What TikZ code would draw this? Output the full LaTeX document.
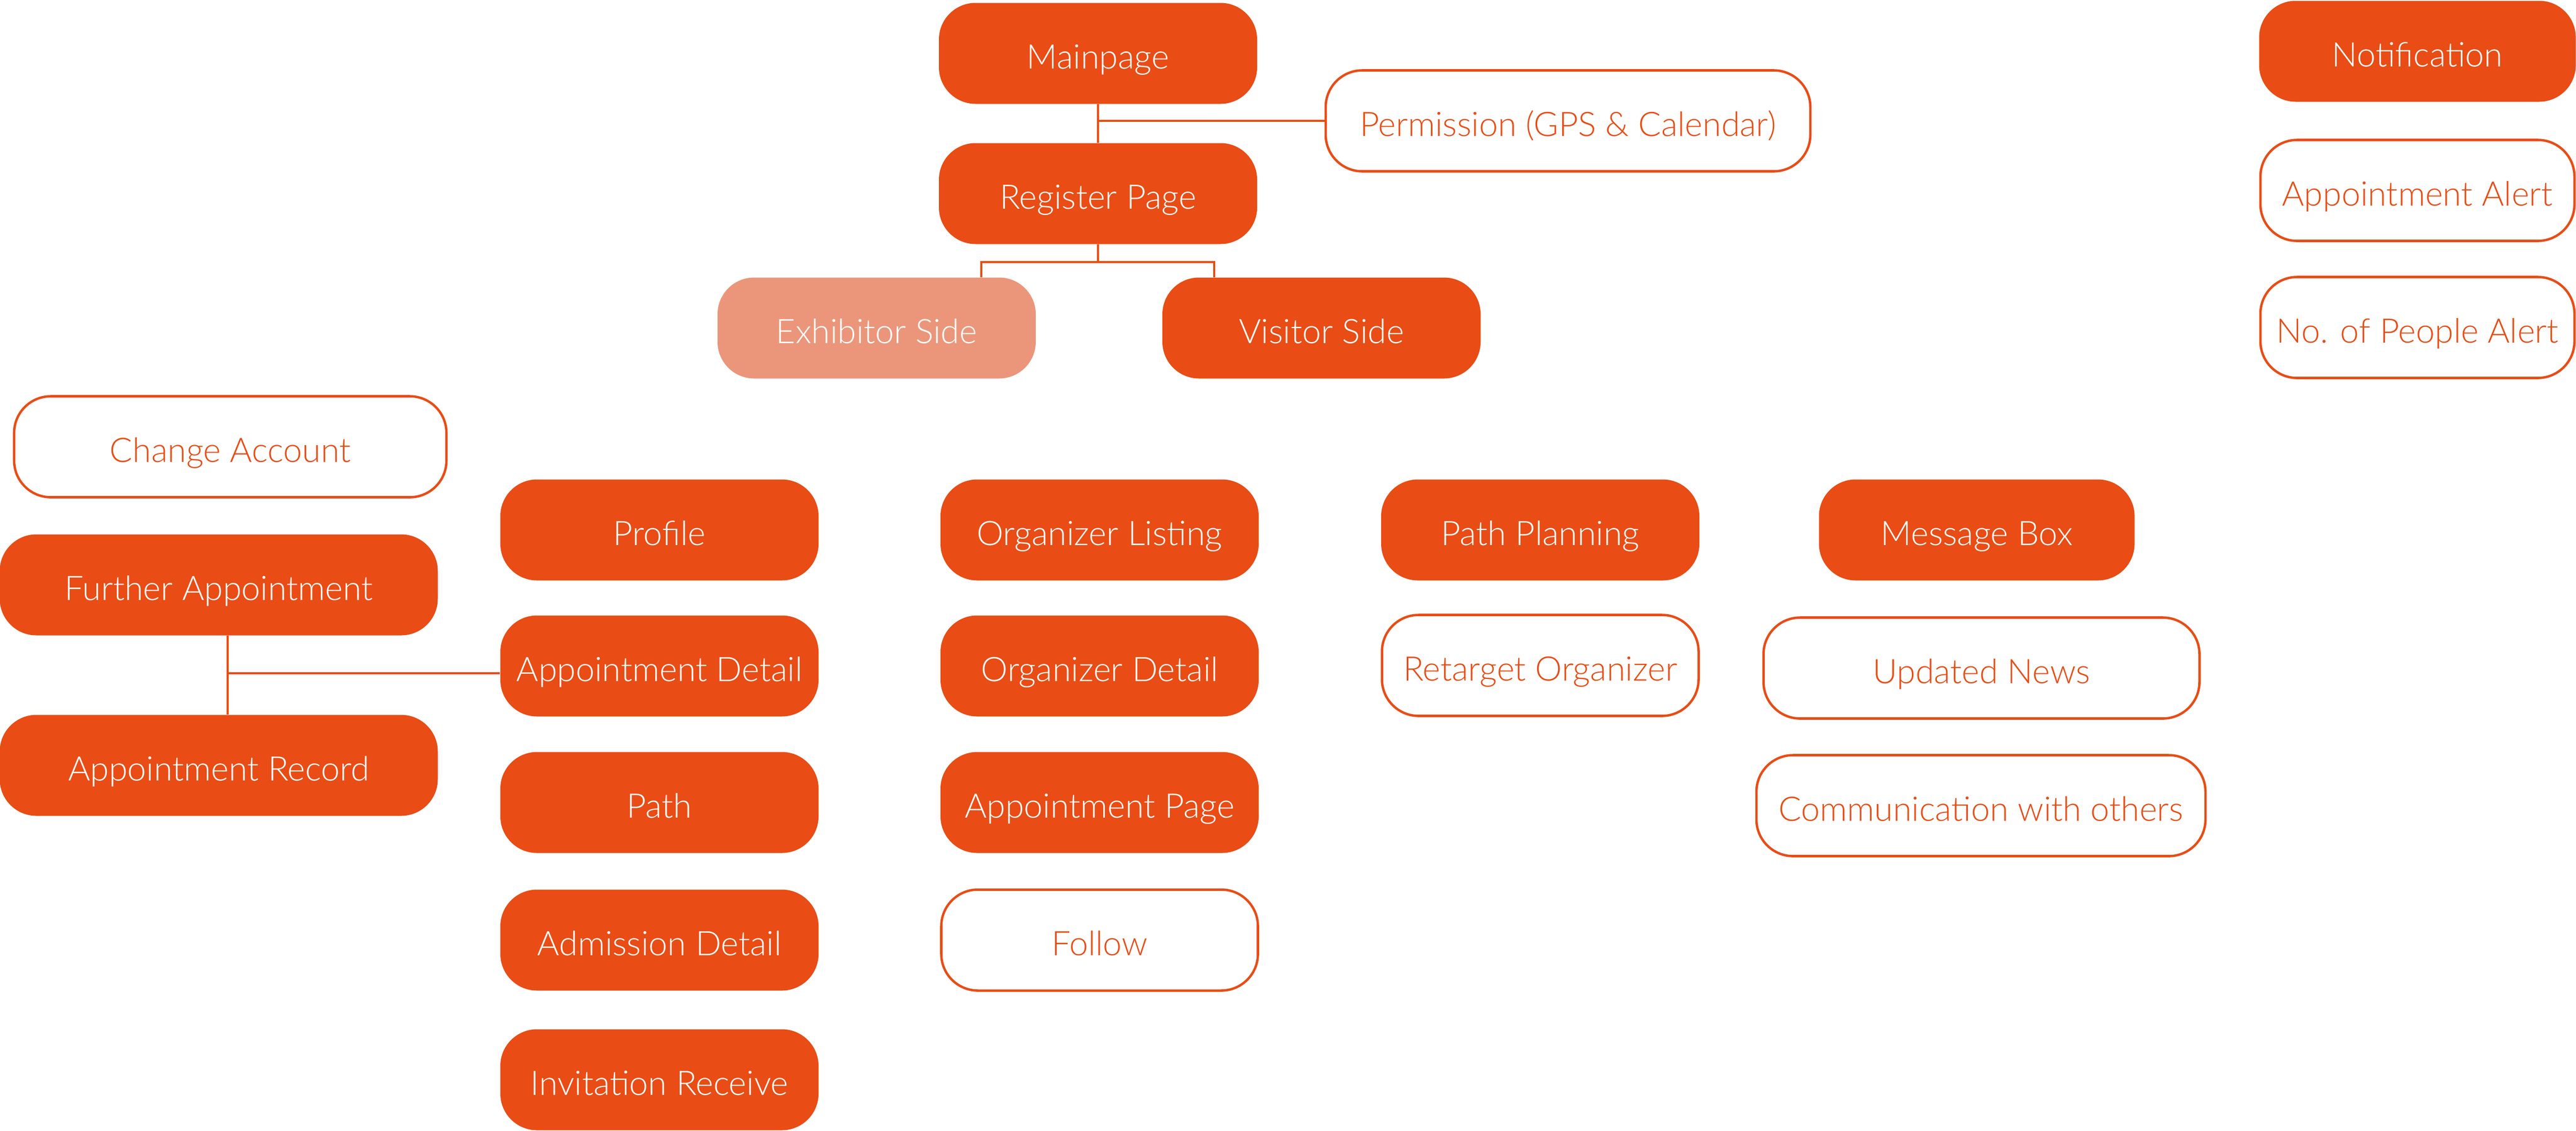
\documentclass[tikz,border=0pt]{standalone}
\usepackage{fontspec}
\setmainfont{Lato Light}
\usepackage{tikz}

\definecolor{brand}{HTML}{E94C15}
\definecolor{brandlight}{HTML}{EB967A}

\tikzset{
  box/.style={rounded corners=0.7cm, minimum width=6.08cm, minimum height=1.93cm, inner sep=0pt, text height=17pt, text depth=0pt, font=\fontsize{18.4}{22}\selectfont},
  solidbox/.style={box, fill=brand, text=white},
  fadebox/.style={box, fill=brandlight, text=white},
  linebox/.style={box, draw=brand, line width=1.3pt, text=brand},
  link/.style={draw=brand, line width=1pt}
}

\begin{document}
\begin{tikzpicture}

        \useasboundingbox (0,0) rectangle (49.22,-21.61);

        \node[solidbox] (main) at (20.98,-1.02) {Mainpage};
        \node[linebox, minimum width=9.26cm] (perm) at (29.96,-2.31) {Permission (GPS \& Calendar)};
        \node[solidbox] (reg) at (20.98,-3.70) {Register Page};
        \node[fadebox] (exh) at (16.75,-6.27) {Exhibitor Side};
        \node[solidbox] (vis) at (25.25,-6.27) {Visitor Side};

        \node[solidbox, minimum width=6.05cm] (notif) at (46.19,-0.98) {Notification};
        \node[linebox, minimum width=6.0cm] (alert) at (46.19,-3.64) {Appointment Alert};
        \node[linebox, minimum width=6.0cm] (people) at (46.19,-6.26) {No. of People Alert};

        \node[linebox, minimum width=8.26cm] (chacc) at (4.40,-8.54) {Change Account};
        \node[solidbox, minimum width=8.37cm] (further) at (4.18,-11.18) {Further Appointment};
        \node[solidbox, minimum width=8.37cm] (record) at (4.18,-14.63) {Appointment Record};

        \node[solidbox] (profile) at (12.60,-10.13) {Profile};
        \node[solidbox] (adetail) at (12.60,-12.73) {Appointment Detail};
        \node[solidbox] (path) at (12.60,-15.34) {Path};
        \node[solidbox] (admission) at (12.60,-17.97) {Admission Detail};
        \node[solidbox] (invite) at (12.60,-20.64) {Invitation Receive};

        \node[solidbox] (olist) at (21.01,-10.13) {Organizer Listing};
        \node[solidbox] (odetail) at (21.01,-12.73) {Organizer Detail};
        \node[solidbox] (apage) at (21.01,-15.34) {Appointment Page};
        \node[linebox, minimum width=6.05cm] (follow) at (21.01,-17.97) {Follow};

        \node[solidbox] (plan) at (29.43,-10.13) {Path Planning};
        \node[linebox, minimum width=6.05cm] (retarget) at (29.43,-12.72) {Retarget Organizer};

        \node[solidbox, minimum width=6.03cm] (msgbox) at (37.77,-10.13) {Message Box};
        \node[linebox, minimum width=8.33cm] (news) at (37.86,-12.77) {Updated News};
        \node[linebox, minimum width=8.58cm] (comm) at (37.85,-15.40) {Communication with others};

        \draw[link] (main.south) -- (reg.north);
        \draw[link] (perm.west) -- (perm.west -| main.south);

        \coordinate (split) at ([yshift=-3.4mm]reg.south);
        \coordinate (splitL) at ([xshift=-22.3mm]split);
        \coordinate (splitR) at ([xshift=22.2mm]split);
        \draw[link] (reg.south) -- (split);
        \draw[link] (exh.north -| splitL) -- (splitL) -- (splitR) -- (vis.north -| splitR);

        \coordinate (stem) at ([xshift=1.7mm]further.south);
        \draw[link] (stem) -- (stem |- record.north);
        \draw[link] ([yshift=-1.4mm]adetail.west) -- ([yshift=-1.4mm]adetail.west -| stem);

\end{tikzpicture}
\end{document}
